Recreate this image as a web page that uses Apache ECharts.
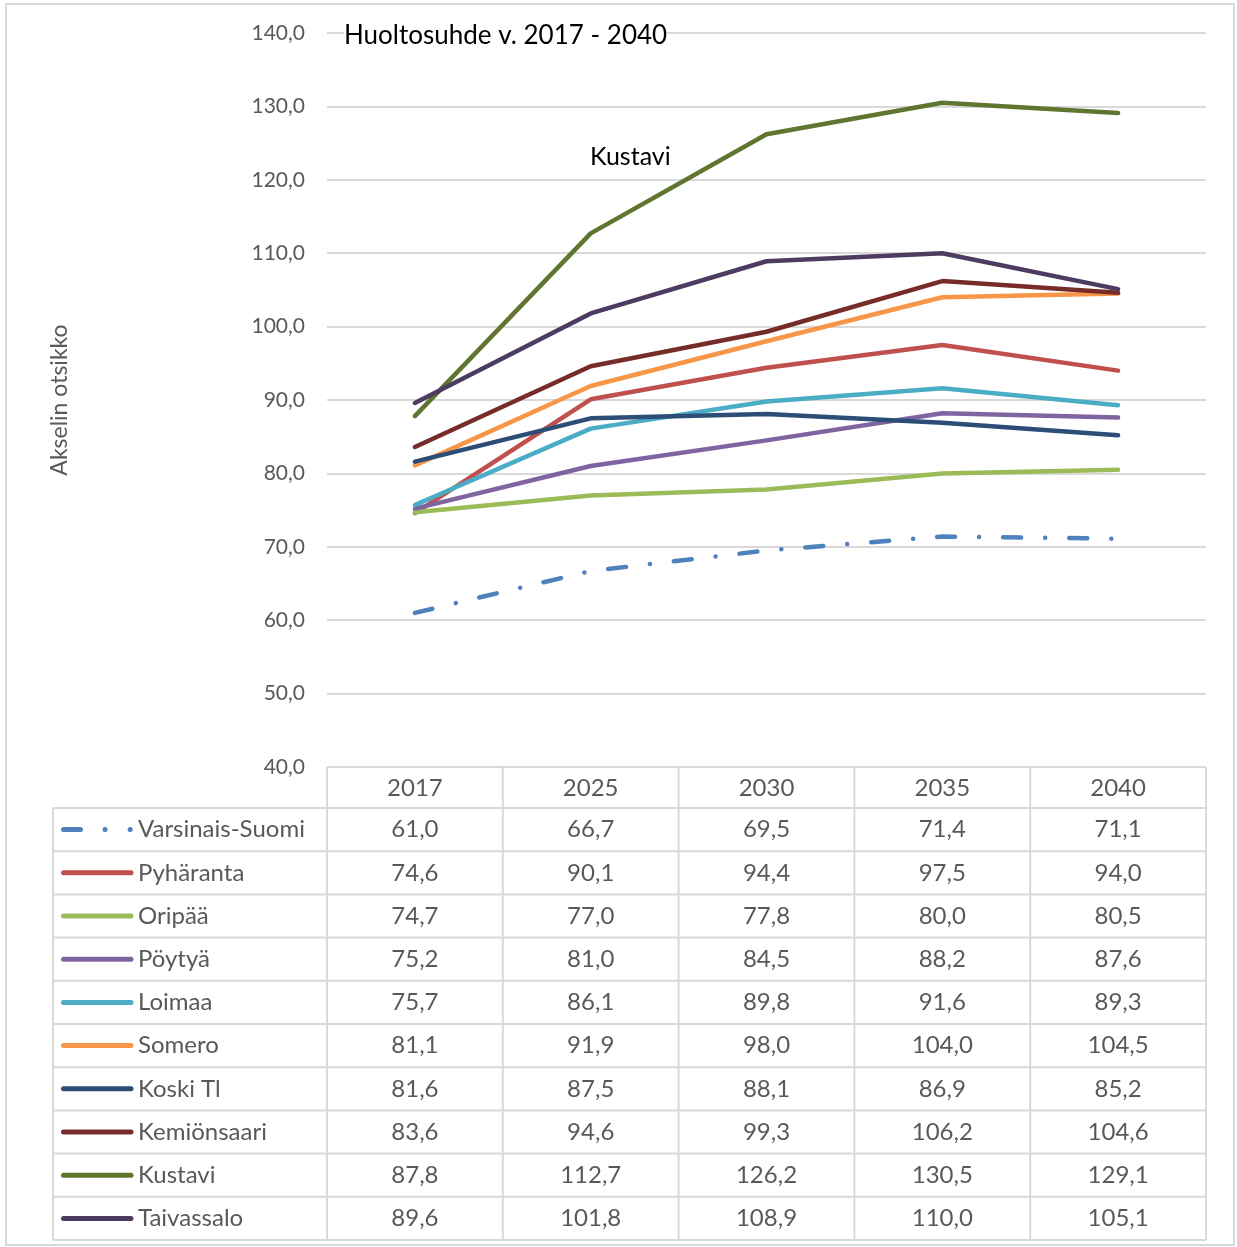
<!DOCTYPE html>
<html>
<head>
<meta charset="utf-8">
<script src="https://cdn.jsdelivr.net/npm/echarts@6/dist/echarts.min.js"></script>
<style>
html,body{margin:0;padding:0;background:#fff;}
#chart{width:1237px;height:1247px;}
</style>
</head>
<body>
<div id="chart"></div>
<script>
const categories = ['2017', '2025', '2030', '2035', '2040'];
const seriesNames = ['Varsinais-Suomi', 'Pyhäranta', 'Oripää', 'Pöytyä', 'Loimaa', 'Somero', 'Koski Tl', 'Kemiönsaari', 'Kustavi', 'Taivassalo'];
const varsinaisSuomi = [61.0, 66.7, 69.5, 71.4, 71.1];
const pyharanta = [74.6, 90.1, 94.4, 97.5, 94.0];
const oripaa = [74.7, 77.0, 77.8, 80.0, 80.5];
const poytya = [75.2, 81.0, 84.5, 88.2, 87.6];
const loimaa = [75.7, 86.1, 89.8, 91.6, 89.3];
const somero = [81.1, 91.9, 98.0, 104.0, 104.5];
const koskiTl = [81.6, 87.5, 88.1, 86.9, 85.2];
const kemionsaari = [83.6, 94.6, 99.3, 106.2, 104.6];
const kustavi = [87.8, 112.7, 126.2, 130.5, 129.1];
const taivassalo = [89.6, 101.8, 108.9, 110.0, 105.1];
const yTicks = [40, 50, 60, 70, 80, 90, 100, 110, 120, 130, 140];
const colors = ['#4F81BD', '#C0504D', '#9BBB59', '#8064A2', '#4BACC6', '#F79646', '#2C4D75', '#772C2A', '#5F7530', '#4D3B62'];
const allData = [varsinaisSuomi, pyharanta, oripaa, poytya, loimaa, somero, koskiTl, kemionsaari, kustavi, taivassalo];

const FONT = 'Lato';
const TXT = '#595959';
const GRID = '#D9D9D9';
const fmt = v => v.toFixed(1).replace('.', ',');
const dashPattern = [18, 24, 0.1, 24];

const chart = echarts.init(document.getElementById('chart'), null, {renderer: 'canvas'});

const series = seriesNames.map((name, i) => ({
  name: name,
  type: 'line',
  data: allData[i],
  symbol: 'none',
  smooth: false,
  z: 2 + i,
  lineStyle: {
    color: colors[i],
    width: 4.5,
    type: i === 0 ? dashPattern : 'solid',
    cap: 'round',
    join: 'round'
  },
  itemStyle: {color: colors[i]}
}));

const option = {
  backgroundColor: '#fff',
  animation: false,
  textStyle: {fontFamily: FONT},
  grid: {left: 327, right: 31, top: 33, bottom: 480, containLabel: false},
  xAxis: {
    type: 'category',
    data: categories,
    boundaryGap: true,
    axisLine: {show: false},
    axisTick: {show: false},
    axisLabel: {show: false},
    splitLine: {show: false}
  },
  yAxis: {
    type: 'value',
    min: yTicks[0],
    max: yTicks[yTicks.length - 1],
    interval: 10,
    name: 'Akselin otsikko',
    nameLocation: 'middle',
    nameGap: 256,
    nameRotate: 90,
    nameTextStyle: {color: TXT, fontSize: 23, fontFamily: FONT},
    axisLine: {show: false},
    axisTick: {show: false},
    axisLabel: {color: TXT, fontSize: 21, fontFamily: FONT, margin: 22, formatter: fmt},
    splitLine: {lineStyle: {color: GRID, width: 2}}
  },
  series: series
};
chart.setOption(option);

// Build data table using axis scale positions
const centers = categories.map(c => chart.convertToPixel({xAxisIndex: 0}, c));
const band = centers[1] - centers[0];
const colEdges = [centers[0] - band / 2].concat(centers.map(c => c + band / 2));
const yTop = chart.convertToPixel({yAxisIndex: 0}, yTicks[0]);
const headerH = 41;
const rowH = 43.2;
const tableLeft = 53;
const rowTop = yTop + headerH;
const tableBottom = rowTop + rowH * seriesNames.length;
const gfx = [];
const TFONT = '24px ' + FONT;

// outer chart border
gfx.push({type: 'rect', shape: {x: 6, y: 4, width: 1228, height: 1241}, style: {fill: null, stroke: GRID, lineWidth: 2}, silent: true});

// horizontal lines
gfx.push({type: 'line', shape: {x1: colEdges[0], y1: yTop, x2: colEdges[colEdges.length - 1], y2: yTop}, style: {stroke: GRID, lineWidth: 2}});
for (let r = 0; r <= seriesNames.length; r++) {
  const y = rowTop + rowH * r;
  gfx.push({type: 'line', shape: {x1: tableLeft, y1: y, x2: colEdges[colEdges.length - 1], y2: y}, style: {stroke: GRID, lineWidth: 2}});
}
// vertical lines
gfx.push({type: 'line', shape: {x1: tableLeft, y1: rowTop, x2: tableLeft, y2: tableBottom}, style: {stroke: GRID, lineWidth: 2}});
colEdges.forEach(x => {
  gfx.push({type: 'line', shape: {x1: x, y1: yTop, x2: x, y2: tableBottom}, style: {stroke: GRID, lineWidth: 2}});
});
// header
categories.forEach((c, j) => {
  gfx.push({type: 'text', x: centers[j], y: yTop + headerH / 2 + 1, style: {text: c, fill: TXT, font: TFONT, textAlign: 'center', textVerticalAlign: 'middle'}});
});
// rows
seriesNames.forEach((name, i) => {
  const cy = rowTop + rowH * i + rowH / 2;
  gfx.push({type: 'line', shape: {x1: 63.5, y1: cy, x2: 131, y2: cy}, style: {stroke: colors[i], lineWidth: 5, lineCap: 'round', lineDash: i === 0 ? [17, 24.5, 0.1, 25, 0.1, 100] : null}});
  gfx.push({type: 'text', x: 138, y: cy, style: {text: name, fill: TXT, font: TFONT, textAlign: 'left', textVerticalAlign: 'middle'}});
  allData[i].forEach((v, j) => {
    gfx.push({type: 'text', x: centers[j], y: cy, style: {text: fmt(v), fill: TXT, font: TFONT, textAlign: 'center', textVerticalAlign: 'middle'}});
  });
});
// title and annotation
gfx.push({type: 'text', x: 344, y: 36, style: {text: 'Huoltosuhde v. 2017 - 2040', fill: '#000', font: '26px ' + FONT, textAlign: 'left', textVerticalAlign: 'middle', backgroundColor: '#fff'}});
gfx.push({type: 'text', x: 590, y: 157, style: {text: 'Kustavi', fill: '#000', font: '25px ' + FONT, textAlign: 'left', textVerticalAlign: 'middle'}});

chart.setOption({graphic: {elements: gfx}});
</script>
</body>
</html>
